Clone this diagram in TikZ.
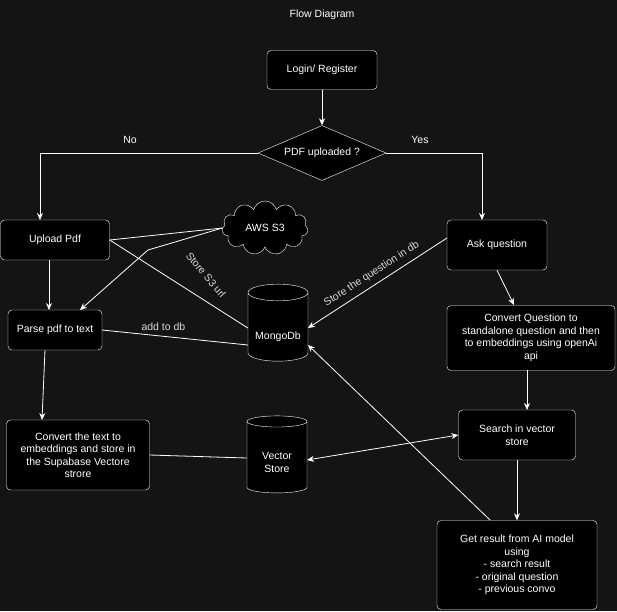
\documentclass[tikz,border=0pt]{standalone}
\usepackage{fontspec}
\setmainfont{Liberation Sans}
\usetikzlibrary{shapes.geometric,shapes.symbols,arrows.meta}
\definecolor{bg}{HTML}{141414}
\begin{document}
\begin{tikzpicture}[x=1pt,y=-1pt,
  every node/.style={font=\fontsize{10.5}{12.5}\selectfont, text=white},
  box/.style={draw=white, fill=black, rounded corners=4pt, align=center, inner sep=2pt},
  db/.style={cylinder, shape border rotate=90, draw=white, fill=black, aspect=0.35, minimum width=60pt, minimum height=77pt, inner sep=1pt, align=center},
  ln/.style={draw=white, line width=0.8pt},
  ar/.style={ln, -{Stealth[length=7pt,width=6pt]}},
  lbl/.style={text=white!85!black}]
\fill[bg] (0,0) rectangle (617,611);
\useasboundingbox (0,0) rectangle (617,611);
\node (title) at (322,15) {Flow Diagram};
\node[box, minimum width=110pt, minimum height=39pt] (login) at (322,70) {Login/ Register};
\node[diamond, draw=white, fill=black, aspect=2.33, minimum width=128pt, minimum height=55pt, inner sep=0pt] (pdf) at (322,153) {PDF uploaded ?};
\node (no) at (130,140) {No};
\node (yes) at (420,140) {Yes};
\node[box, minimum width=109pt, minimum height=40pt] (up) at (55,240) {Upload Pdf};
\node[cloud, draw=white, fill=black, cloud puffs=11, aspect=1.6, minimum width=86pt, minimum height=54pt, inner sep=0pt] (aws) at (265,228) {AWS S3};
\node[box, minimum width=100pt, minimum height=50pt] (ask) at (497,245) {Ask question};
\node[box, minimum width=94pt, minimum height=40pt] (parse) at (55,330) {Parse pdf to text};
\node[db] (mongo) at (278,328) {\\[12pt]MongoDb};
\node[box, minimum width=168pt, minimum height=65pt] (cq) at (531,338) {Convert Question to\\standalone question and then\\to embeddings using openAi\\api};
\node[box, minimum width=143pt, minimum height=70pt] (ct) at (78,455) {Convert the text to\\embeddings and store in\\the Supabase Vectore\\strore};
\node[db] (vec) at (277,458) {\\[4pt]Vector\\Store};
\node[box, minimum width=117pt, minimum height=50pt] (search) at (517,435) {Search in vector\\store};
\node[box, minimum width=160pt, minimum height=89pt] (res) at (517,565) {Get result from AI model\\using\\- search result\\- original question\\- previous convo};

\draw[ar] (login) -- (pdf);
\draw[ar] (pdf.west) -| (40,220);
\draw[ar] (pdf.east) -| (482,220);
\draw[ln] (up.east) -- (aws.west);
\draw[ar] (aws.west) -- (148,250) -- (80,310);
\draw[ln] (up.east) -- (mongo.west);
\node[lbl, rotate=-50] (s3l) at (206,275) {Store S3 url};
\draw[ar] (49,260) -- (49,310);
\draw[ln] (parse.east) -- node[lbl, pos=0.42, above=2pt] {add to db} (248,345);
\draw[ar] (447,238) -- node[lbl, pos=0.5, sloped, above=2pt] {Store the question in db} (308,328);
\draw[ar] (ask.south) -- (514,305);
\draw[ar] (527,370) -- (527,410);
\draw[ar] (45,350) -- (42,420);
\draw[ln] (ct.east) -- (vec.west);
\draw[ln, {Stealth[length=7pt,width=6pt]}-{Stealth[length=7pt,width=6pt]}] (307,460) -- (search.west);
\draw[ar] (search) -- (res);
\draw[ar] (490,520) -- (308,345);
\end{tikzpicture}
\end{document}
